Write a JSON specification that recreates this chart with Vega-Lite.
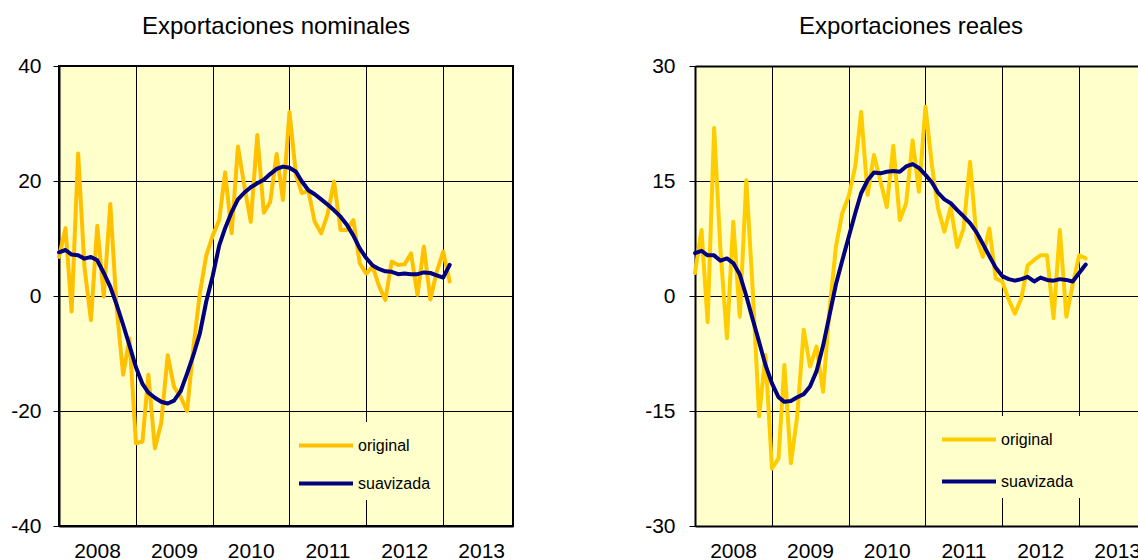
{
  "$schema": "https://vega.github.io/schema/vega-lite/v6.json",
  "background": "white",
  "padding": {"left": 9, "top": 14, "right": 0, "bottom": 0},
  "config": {
    "font": "Liberation Sans",
    "view": {"stroke": null},
    "axis": {"labelFont": "Liberation Sans", "labelColor": "black", "labelFontSize": 21, "titleFont": "Liberation Sans"},
    "legend": {"labelFont": "Liberation Sans"}
  },
  "datasets": {
    "nominales": [
      {"fecha": "2008-01-01", "original": 6.8, "suavizada": 7.6},
      {"fecha": "2008-02-01", "original": 11.8, "suavizada": 8.0},
      {"fecha": "2008-03-01", "original": -2.7, "suavizada": 7.2},
      {"fecha": "2008-04-01", "original": 24.8, "suavizada": 7.1},
      {"fecha": "2008-05-01", "original": 5.0, "suavizada": 6.5},
      {"fecha": "2008-06-01", "original": -4.2, "suavizada": 6.8},
      {"fecha": "2008-07-01", "original": 12.2, "suavizada": 6.2},
      {"fecha": "2008-08-01", "original": -0.1, "suavizada": 4.0},
      {"fecha": "2008-09-01", "original": 16.0, "suavizada": 1.6},
      {"fecha": "2008-10-01", "original": -2.0, "suavizada": -1.5},
      {"fecha": "2008-11-01", "original": -13.7, "suavizada": -5.0},
      {"fecha": "2008-12-01", "original": -7.4, "suavizada": -8.6},
      {"fecha": "2009-01-01", "original": -25.6, "suavizada": -12.4},
      {"fecha": "2009-02-01", "original": -25.3, "suavizada": -15.3},
      {"fecha": "2009-03-01", "original": -13.7, "suavizada": -16.8},
      {"fecha": "2009-04-01", "original": -26.5, "suavizada": -17.7},
      {"fecha": "2009-05-01", "original": -22.1, "suavizada": -18.4},
      {"fecha": "2009-06-01", "original": -10.3, "suavizada": -18.7},
      {"fecha": "2009-07-01", "original": -15.8, "suavizada": -18.2},
      {"fecha": "2009-08-01", "original": -17.5, "suavizada": -16.6},
      {"fecha": "2009-09-01", "original": -20.0, "suavizada": -13.5},
      {"fecha": "2009-10-01", "original": -9.0, "suavizada": -10.3},
      {"fecha": "2009-11-01", "original": 0.5, "suavizada": -6.5},
      {"fecha": "2009-12-01", "original": 7.0, "suavizada": -1.0},
      {"fecha": "2010-01-01", "original": 10.5, "suavizada": 3.5},
      {"fecha": "2010-02-01", "original": 13.2, "suavizada": 8.8},
      {"fecha": "2010-03-01", "original": 21.5, "suavizada": 11.8},
      {"fecha": "2010-04-01", "original": 10.9, "suavizada": 14.6},
      {"fecha": "2010-05-01", "original": 26.0, "suavizada": 16.8},
      {"fecha": "2010-06-01", "original": 19.0, "suavizada": 18.0},
      {"fecha": "2010-07-01", "original": 12.9, "suavizada": 18.9},
      {"fecha": "2010-08-01", "original": 28.0, "suavizada": 19.6},
      {"fecha": "2010-09-01", "original": 14.5, "suavizada": 20.2},
      {"fecha": "2010-10-01", "original": 16.3, "suavizada": 21.2},
      {"fecha": "2010-11-01", "original": 24.7, "suavizada": 22.1},
      {"fecha": "2010-12-01", "original": 16.7, "suavizada": 22.5},
      {"fecha": "2011-01-01", "original": 32.0, "suavizada": 22.3},
      {"fecha": "2011-02-01", "original": 21.0, "suavizada": 21.6},
      {"fecha": "2011-03-01", "original": 17.9, "suavizada": 19.9},
      {"fecha": "2011-04-01", "original": 18.3, "suavizada": 18.4},
      {"fecha": "2011-05-01", "original": 12.9, "suavizada": 17.7},
      {"fecha": "2011-06-01", "original": 10.9, "suavizada": 16.8},
      {"fecha": "2011-07-01", "original": 14.2, "suavizada": 15.9},
      {"fecha": "2011-08-01", "original": 19.9, "suavizada": 14.9},
      {"fecha": "2011-09-01", "original": 11.5, "suavizada": 13.8},
      {"fecha": "2011-10-01", "original": 11.5, "suavizada": 12.4},
      {"fecha": "2011-11-01", "original": 13.2, "suavizada": 10.5},
      {"fecha": "2011-12-01", "original": 5.7, "suavizada": 8.3},
      {"fecha": "2012-01-01", "original": 3.9, "suavizada": 6.6},
      {"fecha": "2012-02-01", "original": 5.1, "suavizada": 5.3},
      {"fecha": "2012-03-01", "original": 1.8, "suavizada": 4.7},
      {"fecha": "2012-04-01", "original": -0.7, "suavizada": 4.3},
      {"fecha": "2012-05-01", "original": 6.0, "suavizada": 4.2},
      {"fecha": "2012-06-01", "original": 5.4, "suavizada": 3.8},
      {"fecha": "2012-07-01", "original": 5.5, "suavizada": 3.9},
      {"fecha": "2012-08-01", "original": 7.4, "suavizada": 3.8},
      {"fecha": "2012-09-01", "original": 0.2, "suavizada": 3.8},
      {"fecha": "2012-10-01", "original": 8.6, "suavizada": 4.1},
      {"fecha": "2012-11-01", "original": -0.6, "suavizada": 4.0},
      {"fecha": "2012-12-01", "original": 4.2, "suavizada": 3.6},
      {"fecha": "2013-01-01", "original": 7.7, "suavizada": 3.2},
      {"fecha": "2013-02-01", "original": 2.5, "suavizada": 5.4}
    ],
    "reales": [
      {"fecha": "2008-01-01", "original": 3.0, "suavizada": 5.6},
      {"fecha": "2008-02-01", "original": 8.6, "suavizada": 5.9},
      {"fecha": "2008-03-01", "original": -3.4, "suavizada": 5.3},
      {"fecha": "2008-04-01", "original": 21.9, "suavizada": 5.3},
      {"fecha": "2008-05-01", "original": 6.0, "suavizada": 4.6},
      {"fecha": "2008-06-01", "original": -5.5, "suavizada": 4.9},
      {"fecha": "2008-07-01", "original": 9.7, "suavizada": 4.3},
      {"fecha": "2008-08-01", "original": -2.7, "suavizada": 2.8},
      {"fecha": "2008-09-01", "original": 15.1, "suavizada": 0.0},
      {"fecha": "2008-10-01", "original": 1.0, "suavizada": -3.0},
      {"fecha": "2008-11-01", "original": -15.7, "suavizada": -6.0},
      {"fecha": "2008-12-01", "original": -7.7, "suavizada": -9.0},
      {"fecha": "2009-01-01", "original": -22.5, "suavizada": -11.4},
      {"fecha": "2009-02-01", "original": -21.2, "suavizada": -13.2},
      {"fecha": "2009-03-01", "original": -9.0, "suavizada": -13.8},
      {"fecha": "2009-04-01", "original": -21.8, "suavizada": -13.7},
      {"fecha": "2009-05-01", "original": -15.7, "suavizada": -13.2},
      {"fecha": "2009-06-01", "original": -4.4, "suavizada": -12.8},
      {"fecha": "2009-07-01", "original": -9.2, "suavizada": -11.8},
      {"fecha": "2009-08-01", "original": -6.6, "suavizada": -9.8},
      {"fecha": "2009-09-01", "original": -12.5, "suavizada": -6.5},
      {"fecha": "2009-10-01", "original": -2.0, "suavizada": -2.6},
      {"fecha": "2009-11-01", "original": 6.4, "suavizada": 1.5},
      {"fecha": "2009-12-01", "original": 10.8, "suavizada": 4.6},
      {"fecha": "2010-01-01", "original": 13.0, "suavizada": 7.7},
      {"fecha": "2010-02-01", "original": 16.9, "suavizada": 10.8},
      {"fecha": "2010-03-01", "original": 24.0, "suavizada": 13.4},
      {"fecha": "2010-04-01", "original": 13.2, "suavizada": 15.1},
      {"fecha": "2010-05-01", "original": 18.4, "suavizada": 16.1},
      {"fecha": "2010-06-01", "original": 15.0, "suavizada": 16.0},
      {"fecha": "2010-07-01", "original": 11.6, "suavizada": 16.2},
      {"fecha": "2010-08-01", "original": 19.6, "suavizada": 16.3},
      {"fecha": "2010-09-01", "original": 9.9, "suavizada": 16.2},
      {"fecha": "2010-10-01", "original": 12.1, "suavizada": 16.9},
      {"fecha": "2010-11-01", "original": 20.3, "suavizada": 17.2},
      {"fecha": "2010-12-01", "original": 13.6, "suavizada": 16.7},
      {"fecha": "2011-01-01", "original": 24.7, "suavizada": 15.8},
      {"fecha": "2011-02-01", "original": 17.0, "suavizada": 14.8},
      {"fecha": "2011-03-01", "original": 11.5, "suavizada": 13.5},
      {"fecha": "2011-04-01", "original": 8.4, "suavizada": 12.6},
      {"fecha": "2011-05-01", "original": 11.6, "suavizada": 12.1},
      {"fecha": "2011-06-01", "original": 6.4, "suavizada": 11.2},
      {"fecha": "2011-07-01", "original": 8.8, "suavizada": 10.4},
      {"fecha": "2011-08-01", "original": 17.5, "suavizada": 9.5},
      {"fecha": "2011-09-01", "original": 7.5, "suavizada": 8.3},
      {"fecha": "2011-10-01", "original": 5.1, "suavizada": 6.8},
      {"fecha": "2011-11-01", "original": 8.8, "suavizada": 5.2},
      {"fecha": "2011-12-01", "original": 2.3, "suavizada": 3.7},
      {"fecha": "2012-01-01", "original": 1.9, "suavizada": 2.6},
      {"fecha": "2012-02-01", "original": -0.5, "suavizada": 2.2},
      {"fecha": "2012-03-01", "original": -2.3, "suavizada": 2.0},
      {"fecha": "2012-04-01", "original": -0.3, "suavizada": 2.2},
      {"fecha": "2012-05-01", "original": 4.0, "suavizada": 2.5},
      {"fecha": "2012-06-01", "original": 4.7, "suavizada": 1.9},
      {"fecha": "2012-07-01", "original": 5.3, "suavizada": 2.4},
      {"fecha": "2012-08-01", "original": 5.3, "suavizada": 2.1},
      {"fecha": "2012-09-01", "original": -2.9, "suavizada": 2.0},
      {"fecha": "2012-10-01", "original": 8.6, "suavizada": 2.2},
      {"fecha": "2012-11-01", "original": -2.7, "suavizada": 2.1},
      {"fecha": "2012-12-01", "original": 1.5, "suavizada": 1.9},
      {"fecha": "2013-01-01", "original": 5.3, "suavizada": 3.0},
      {"fecha": "2013-02-01", "original": 4.9, "suavizada": 4.1}
    ]
  },
  "spacing": 130,
  "resolve": {"scale": {"color": "independent"}, "legend": {"color": "independent"}},
  "hconcat": [
    {
      "title": {"text": "Exportaciones nominales", "fontSize": 24, "font": "Liberation Sans", "fontWeight": "normal", "color": "black", "anchor": "middle", "offset": 16, "dx": -10},
      "width": 454,
      "height": 460,
      "view": {"fill": "#FFFFCC", "stroke": "black", "strokeWidth": 2},
      "data": {"name": "nominales"},
      "transform": [{"fold": ["original", "suavizada"], "as": ["serie", "valor"]}],
      "mark": {"type": "line", "strokeWidth": 4, "strokeJoin": "round", "strokeCap": "round"},
      "encoding": {
        "x": {
          "field": "fecha", "type": "temporal",
          "scale": {"type": "utc", "domain": [{"year": 2008, "month": 1, "date": 1, "utc": true}, {"year": 2013, "month": 11, "date": 29, "utc": true}]},
          "axis": {
            "title": null,
            "values": [{"year": 2008, "month": 1, "date": 1, "utc": true}, {"year": 2009, "month": 1, "date": 1, "utc": true}, {"year": 2010, "month": 1, "date": 1, "utc": true}, {"year": 2011, "month": 1, "date": 1, "utc": true}, {"year": 2012, "month": 1, "date": 1, "utc": true}, {"year": 2013, "month": 1, "date": 1, "utc": true}],
            "labelExpr": "utcFormat(datum.value, '%Y')",
            "labelOffset": 38, "labelPadding": 14, "labelFlush": false, "labelOverlap": false, "labelBound": false,
            "ticks": false, "grid": true, "gridColor": "black", "gridWidth": 1, "gridOpacity": 1,
            "domainColor": "black", "domainWidth": 2
          }
        },
        "y": {
          "field": "valor", "type": "quantitative",
          "scale": {"domain": [-40, 40], "nice": false, "zero": false},
          "axis": {"title": null, "values": [-40, -20, 0, 20, 40], "labelExpr": "'' + datum.value", "labelPadding": 12, "tickSize": 6, "tickColor": "black", "tickWidth": 1, "grid": true, "gridColor": "black", "gridWidth": 1, "gridOpacity": 1, "domainColor": "black", "domainWidth": 2}
        },
        "color": {
          "field": "serie", "type": "nominal",
          "scale": {"domain": ["original", "suavizada"], "range": ["#FFC000", "#000080"]},
          "legend": {
            "title": null, "orient": "none", "legendX": 232, "legendY": 356,
            "symbolType": "M-1.148,0H2.852", "symbolSize": 729, "symbolStrokeWidth": 4,
            "labelFontSize": 16, "labelColor": "black", "labelOffset": 28,
            "rowPadding": 14, "padding": 8, "fillColor": "#FFFFCC", "strokeColor": null
          }
        }
      }
    },
    {
      "title": {"text": "Exportaciones reales", "fontSize": 24, "font": "Liberation Sans", "fontWeight": "normal", "color": "black", "anchor": "middle", "offset": 16, "dx": -11},
      "width": 454,
      "height": 460,
      "view": {"fill": "#FFFFCC", "stroke": null},
      "data": {"name": "reales"},
      "transform": [{"fold": ["original", "suavizada"], "as": ["serie", "valor"]}],
      "resolve": {"axis": {"x": "independent"}},
      "layer": [
        {
          "mark": {"type": "line", "strokeWidth": 4, "strokeJoin": "round", "strokeCap": "round"},
          "encoding": {
            "x": {
              "field": "fecha", "type": "temporal",
              "scale": {"type": "utc", "domain": [{"year": 2008, "month": 1, "date": 1, "utc": true}, {"year": 2013, "month": 11, "date": 29, "utc": true}]},
              "axis": {
                "title": null, "orient": "bottom",
                "values": [{"year": 2008, "month": 1, "date": 1, "utc": true}, {"year": 2009, "month": 1, "date": 1, "utc": true}, {"year": 2010, "month": 1, "date": 1, "utc": true}, {"year": 2011, "month": 1, "date": 1, "utc": true}, {"year": 2012, "month": 1, "date": 1, "utc": true}, {"year": 2013, "month": 1, "date": 1, "utc": true}],
                "labelExpr": "utcFormat(datum.value, '%Y')",
                "labelOffset": 38, "labelPadding": 14, "labelFlush": false, "labelOverlap": false, "labelBound": false,
                "ticks": false, "grid": true, "gridColor": "black", "gridWidth": 1, "gridOpacity": 1,
                "domainColor": "black", "domainWidth": 2
              }
            },
            "y": {
              "field": "valor", "type": "quantitative",
              "scale": {"domain": [-30, 30], "nice": false, "zero": false},
              "axis": {"title": null, "values": [-30, -15, 0, 15, 30], "labelExpr": "'' + datum.value", "labelPadding": 14, "tickSize": 6, "tickColor": "black", "tickWidth": 1, "grid": true, "gridColor": "black", "gridWidth": 1, "gridOpacity": 1, "domainColor": "black", "domainWidth": 2}
            },
            "color": {
              "field": "serie", "type": "nominal",
              "scale": {"domain": ["original", "suavizada"], "range": ["#FFCC00", "#000080"]},
              "legend": {
                "title": null, "orient": "none", "legendX": 239, "legendY": 350,
                "symbolType": "M-1.148,0H2.852", "symbolSize": 729, "symbolStrokeWidth": 4,
                "labelFontSize": 16, "labelColor": "black", "labelOffset": 28,
                "rowPadding": 18, "padding": 8, "fillColor": "#FFFFCC", "strokeColor": null
              }
            }
          }
        },
        {
          "mark": {"type": "line", "opacity": 0},
          "encoding": {
            "x": {
              "field": "fecha", "type": "temporal",
              "axis": {"title": null, "orient": "top", "labels": false, "ticks": false, "grid": false, "domainColor": "black", "domainWidth": 2}
            },
            "y": {"field": "valor", "type": "quantitative"}
          }
        }
      ]
    }
  ]
}
